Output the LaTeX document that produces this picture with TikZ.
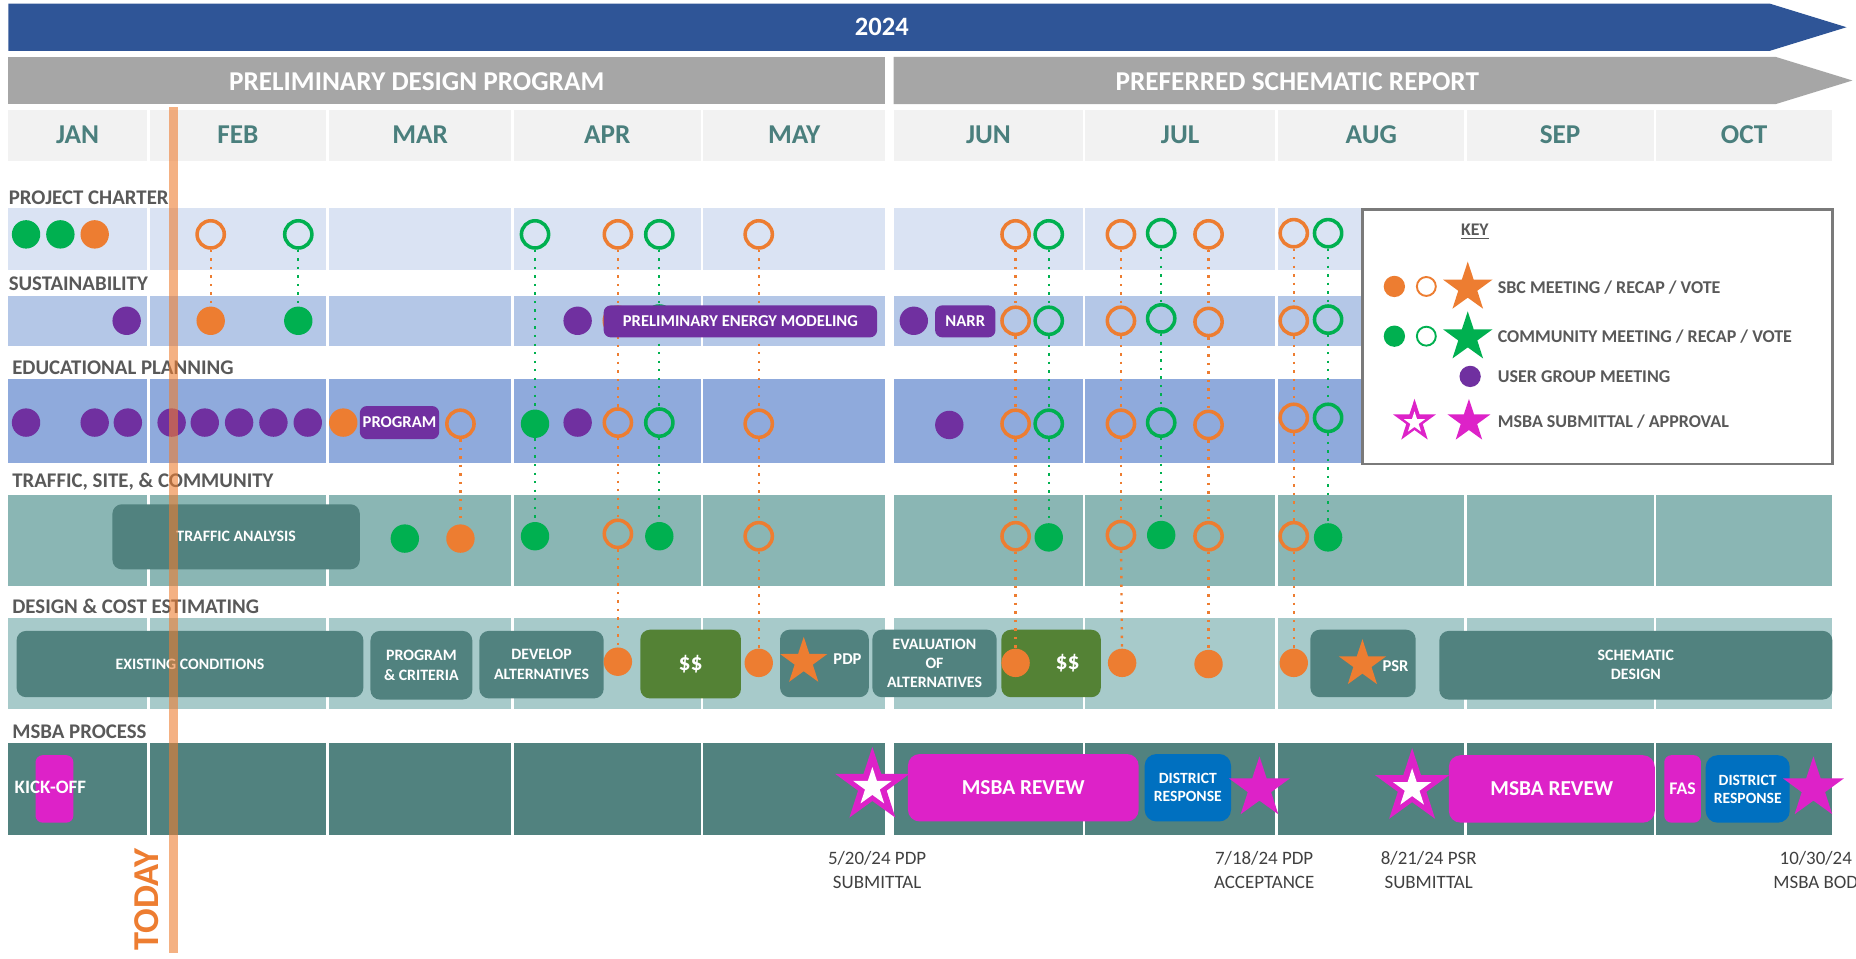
\documentclass[tikz,border=0pt]{standalone}
\usepackage{fontspec}
\setmainfont{Carlito}
\usetikzlibrary{shapes.geometric}
\definecolor{cBlue}{HTML}{2F5597}
\definecolor{cGray}{HTML}{A6A6A6}
\definecolor{cHead}{HTML}{F2F2F2}
\definecolor{cMonth}{HTML}{4A7F7D}
\definecolor{cLabel}{HTML}{595959}
\definecolor{bPC}{HTML}{DAE3F3}
\definecolor{bSU}{HTML}{B4C7E7}
\definecolor{bED}{HTML}{8FAADC}
\definecolor{bTR}{HTML}{8AB6B4}
\definecolor{bDE}{HTML}{A7CACA}
\definecolor{cTeal}{HTML}{51827F}
\definecolor{cMoney}{HTML}{548235}
\definecolor{cPurp}{HTML}{7030A0}
\definecolor{cOr}{HTML}{ED7D31}
\definecolor{cGr}{HTML}{00B050}
\definecolor{cMag}{HTML}{DD22C8}
\definecolor{cDist}{HTML}{0070C0}
\definecolor{cDate}{HTML}{404040}
\pgfdeclarelayer{bg}
\pgfdeclarelayer{mid}
\pgfsetlayers{bg,mid,main}
\tikzset{
  fdot/.style={circle, inner sep=0pt, minimum size=12pt},
  odot/.style={fdot, fill=cOr},
  gdot/.style={fdot, fill=cGr},
  pdot/.style={fdot, fill=cPurp},
  ring/.style={circle, inner sep=0pt, minimum size=11.5pt, line width=1.5pt},
  oring/.style={ring, draw=cOr},
  gring/.style={ring, draw=cGr},
  olink/.style={draw=cOr, line width=1pt, dash pattern=on 1pt off 2.6pt},
  glink/.style={draw=cGr, line width=1pt, dash pattern=on 1pt off 2.6pt},
  rowlabel/.style={anchor=west, inner sep=0pt, text=cLabel, font=\bfseries\fontsize{8.8}{10}\selectfont},
  monthlbl/.style={text=cMonth, font=\bfseries\fontsize{11.5}{12}\selectfont},
  tbox/.style={rectangle, rounded corners=4pt, fill=cTeal, text=white, align=center, inner sep=0pt, font=\bfseries\fontsize{6.7}{8.6}\selectfont},
  mbox/.style={tbox, fill=cMoney, font=\bfseries\fontsize{10}{11}\selectfont},
  pbox/.style={rectangle, rounded corners=3pt, fill=cPurp, text=white, inner sep=0pt, font=\bfseries\fontsize{7}{8}\selectfont},
  magbox/.style={rectangle, rounded corners=5pt, fill=cMag, text=white, inner sep=0pt, font=\bfseries\fontsize{9}{10}\selectfont},
  distbox/.style={rectangle, rounded corners=5pt, fill=cDist, text=white, align=center, inner sep=0pt, font=\bfseries\fontsize{6.6}{7.6}\selectfont},
  starshape/.style={star, star points=5, star point ratio=2.6, inner sep=0pt, draw=none},
  datelbl/.style={align=center, text=cDate, font=\fontsize{8}{10}\selectfont},
  keytxt/.style={anchor=west, inner sep=0pt, text=cLabel, font=\bfseries\fontsize{7.6}{9}\selectfont}
}
\begin{document}
\begin{tikzpicture}[x=0.5pt,y=-0.5pt]
\useasboundingbox (0,0) rectangle (1568,810);
\clip (0,0) rectangle (1568,810);
% top banners
\fill[cBlue] (7,3) -- (1495,3) -- (1560,23) -- (1495,43) -- (7,43) -- cycle;
\node[text=white, font=\bfseries\fontsize{11.2}{12}\selectfont] (yr) at (745,23) {2024};
\fill[cGray] (7,48) rectangle (748,88);
\fill[cGray] (755,48) -- (1500,48) -- (1565,68) -- (1500,88) -- (755,88) -- cycle;
\node[text=white, font=\bfseries\fontsize{11.5}{12}\selectfont] (pdp) at (352,69) {PRELIMINARY DESIGN PROGRAM};
\node[text=white, font=\bfseries\fontsize{11.5}{12}\selectfont] (psr) at (1096,69) {PREFERRED SCHEMATIC REPORT};
% month headers
\foreach \a/\b/\m in {7/124/JAN,127/275/FEB,278/432/MAR,434/592/APR,594/748/MAY,755/915/JUN,917/1077/JUL,1080/1237/AUG,1239/1397/SEP,1399/1548/OCT}{
  \fill[cHead] (\a,93) rectangle (\b,136);
  \node[monthlbl] (m\m) at ({(\a+\b)/2},114) {\m};
}
\begin{pgfonlayer}{bg}
% row bands
\foreach \a/\b in {7/124,127/275,278/432,434/592,594/748,755/915,917/1077,1080/1237}{
  \fill[bPC] (\a,176) rectangle (\b,228);
  \fill[bSU] (\a,250) rectangle (\b,292);
  \fill[bED] (\a,320) rectangle (\b,391);
}
\foreach \a/\b in {7/124,127/275,278/432,434/592,594/748,755/915,917/1077,1080/1237,1239/1397,1399/1548}{
  \fill[bTR] (\a,418) rectangle (\b,495);
  \fill[bDE] (\a,522) rectangle (\b,599);
  \fill[cTeal] (\a,628) rectangle (\b,705);
}
% traffic box
\node[tbox, minimum width=104.5pt, minimum height=27.5pt] (traf) at (199.5,453.5) {TRAFFIC ANALYSIS};
% design boxes
\node[tbox, minimum width=146.5pt, minimum height=28pt] (exist) at (160.5,561) {EXISTING CONDITIONS};
\node[tbox, minimum width=43pt, minimum height=29pt] (progcrit) at (356,562) {PROGRAM\\\& CRITERIA};
\node[tbox, minimum width=52.5pt, minimum height=28.5pt] (devalt) at (457.5,561.5) {DEVELOP\\ALTERNATIVES};
\node[mbox, minimum width=42.5pt, minimum height=29pt] (money1) at (583.5,561) {\$\$};
\node[tbox, minimum width=37.5pt, minimum height=28.5pt] (pdpbox) at (696.5,560.5) {};
\node[starshape, fill=cOr, minimum size=21pt] (pdpstar) at (679,559) {};
\node[text=white, font=\bfseries\fontsize{7}{8}\selectfont] (pdptxt) at (716,557) {PDP};
\node[tbox, minimum width=52.5pt, minimum height=28.5pt, font=\bfseries\fontsize{6.7}{8}\selectfont] (evalalt) at (789.5,560.5) {EVALUATION\\OF\\ALTERNATIVES};
\node[mbox, minimum width=42pt, minimum height=28.5pt] (money2) at (888,560.5) {\hspace*{14pt}\$\$};
\node[tbox, minimum width=44.5pt, minimum height=28.5pt] (psrbox) at (1151.5,560.5) {};
\node[starshape, fill=cOr, minimum size=21pt] (psrstar) at (1151,561) {};
\node[text=white, font=\bfseries\fontsize{7}{8}\selectfont] (psrtxt) at (1179,563) {PSR};
\node[tbox, minimum width=166pt, minimum height=29pt, font=\bfseries\fontsize{6.7}{8}\selectfont] (schem) at (1382,562) {SCHEMATIC\\DESIGN};
\end{pgfonlayer}
% row labels
\node[rowlabel] (lpc) at (7,167) {PROJECT CHARTER};
\node[rowlabel] (lsu) at (7,240) {SUSTAINABILITY};
\node[rowlabel] (led) at (10,311) {EDUCATIONAL PLANNING};
\node[rowlabel] (ltr) at (10,407) {TRAFFIC, SITE, \& COMMUNITY};
\node[rowlabel] (lde) at (10,512) {DESIGN \& COST ESTIMATING};
\node[rowlabel] (lms) at (10,618) {MSBA PROCESS};
% project charter
\node[gdot] (pc1) at (22,198) {};
\node[gdot] (pc2) at (51,198) {};
\node[odot] (pc3) at (80,198) {};
\node[oring] (pcFo) at (178,198) {};
\node[gring] (pcFg) at (252,198) {};
\node[gring] (pcAg) at (452,198) {};
\node[oring] (pcAo) at (522,198) {};
\node[gring] (pcAg2) at (557,198) {};
\node[oring] (pcMo) at (641,198) {};
\node[oring] (pcJo) at (858,198) {};
\node[gring] (pcJg) at (886,198) {};
\node[oring] (pcLo1) at (947,198) {};
\node[gring] (pcLg) at (981,197) {};
\node[oring] (pcLo2) at (1021,198) {};
\node[oring] (pcUo) at (1093,197) {};
\node[gring] (pcUg) at (1122,197) {};
% sustainability
\node[pdot] (s1) at (107,271) {};
\node[odot] (sFo) at (178,271) {};
\node[gdot] (sFg) at (252,271) {};
\node[pdot] (sAp) at (488,271) {};
\node[oring] (sAo) at (522,271) {};
\node[gring] (sAg) at (557,270) {};
\node[pbox, minimum width=115.5pt, minimum height=13.5pt] (pem) at (625.5,271.5) {PRELIMINARY ENERGY MODELING};
\node[pdot] (sJp) at (772,271) {};
\node[pbox, minimum width=25.5pt, minimum height=13.5pt] (narr) at (815.5,271.5) {NARR};
\node[oring] (sJo) at (858,271) {};
\node[gring] (sJg) at (886,271) {};
\node[oring] (sLo1) at (947,271) {};
\node[gring] (sLg) at (981,269) {};
\node[oring] (sLo2) at (1021,272) {};
\node[oring] (sUo) at (1093,271) {};
\node[gring] (sUg) at (1122,270) {};
% educational planning
\foreach \x [count=\i] in {22,80,108,145,173,202,231,260}{
  \node[pdot] (ep\i) at (\x,357) {};
}
\node[odot] (eMo) at (290,357) {};
\node[pbox, minimum width=33.5pt, minimum height=14pt] (progbox) at (337.5,357) {PROGRAM};
\node[oring] (eMr) at (389,358) {};
\node[gdot] (eAg) at (452,358) {};
\node[pdot] (eAp) at (488,357) {};
\node[oring] (eAo) at (522,357) {};
\node[gring] (eAg2) at (557,357) {};
\node[oring] (eMyo) at (641,358) {};
\node[pdot] (eJp) at (802,359) {};
\node[oring] (eJo) at (858,358) {};
\node[gring] (eJg) at (886,358) {};
\node[oring] (eLo1) at (947,358) {};
\node[gring] (eLg) at (981,357) {};
\node[oring] (eLo2) at (1021,359) {};
\node[oring] (eUo) at (1093,353) {};
\node[gring] (eUg) at (1122,353) {};
% traffic
\node[gdot] (tMg) at (342,455) {};
\node[odot] (tMo) at (389,455) {};
\node[gdot] (tAg) at (452,453) {};
\node[oring] (tAo) at (522,451) {};
\node[gdot] (tAg2) at (557,453) {};
\node[oring] (tMyo) at (641,453) {};
\node[oring] (tJo) at (858,453) {};
\node[gdot] (tJg) at (886,454) {};
\node[oring] (tLo1) at (947,452) {};
\node[gdot] (tLg) at (981,452) {};
\node[oring] (tLo2) at (1021,453) {};
\node[oring] (tUo) at (1093,453) {};
\node[gdot] (tUg) at (1122,454) {};
% design dots
\node[odot] (dAo) at (522,559) {};
\node[odot] (dMo) at (641,560) {};
\node[odot] (dJo) at (858,560) {};
\node[odot] (dLo1) at (948,560) {};
\node[odot] (dLo2) at (1021,561) {};
\node[odot] (dUo) at (1093,560) {};
% dotted links (behind circles and purple boxes)
\begin{pgfonlayer}{mid}
\draw[olink] (pcFo) -- (sFo);
\draw[glink] (pcFg) -- (sFg);
\draw[glink] (pcAg) -- (eAg) -- (tAg);
\draw[olink] (pcAo) -- (sAo);
\draw[olink] (sAo) -- (eAo);
\draw[olink] (eAo) -- (tAo);
\draw[olink] (tAo) -- (dAo);
\draw[glink] (pcAg2) -- (sAg);
\draw[glink] (sAg) -- (eAg2);
\draw[glink] (eAg2) -- (tAg2);
\draw[olink] (pcMo) -- (eMyo);
\draw[olink] (eMyo) -- (tMyo);
\draw[olink] (tMyo) -- (dMo);
\draw[olink] (eMr) -- (tMo);
\draw[olink] (pcJo) -- (sJo);
\draw[olink] (sJo) -- (eJo);
\draw[olink] (eJo) -- (tJo);
\draw[olink] (tJo) -- (dJo);
\draw[glink] (pcJg) -- (sJg);
\draw[glink] (sJg) -- (eJg);
\draw[glink] (eJg) -- (tJg);
\draw[olink] (pcLo1) -- (sLo1);
\draw[olink] (sLo1) -- (eLo1);
\draw[olink] (eLo1) -- (tLo1);
\draw[olink] (tLo1) -- (dLo1);
\draw[glink] (pcLg) -- (sLg);
\draw[glink] (sLg) -- (eLg);
\draw[glink] (eLg) -- (tLg);
\draw[olink] (pcLo2) -- (sLo2);
\draw[olink] (sLo2) -- (eLo2);
\draw[olink] (eLo2) -- (tLo2);
\draw[olink] (tLo2) -- (dLo2);
\draw[olink] (pcUo) -- (sUo);
\draw[olink] (sUo) -- (eUo);
\draw[olink] (eUo) -- (tUo);
\draw[olink] (tUo) -- (dUo);
\draw[glink] (pcUg) -- (sUg);
\draw[glink] (sUg) -- (eUg);
\draw[glink] (eUg) -- (tUg);
\end{pgfonlayer}
% MSBA process
\node[rectangle, rounded corners=3pt, fill=cMag, minimum width=16pt, minimum height=28.5pt, inner sep=0pt] (kick) at (46,666.5) {};
\node[anchor=west, inner sep=0pt, text=white, font=\bfseries\fontsize{8}{9}\selectfont] (kicktxt) at (12,665) {KICK-OFF};
\node[starshape, fill=cMag, minimum size=33pt] (sub1) at (737,664) {};
\node[starshape, fill=white, minimum size=17pt] (sub1in) at (737,665) {};
\node[magbox, minimum width=97.5pt, minimum height=28.5pt] (rev1) at (864.5,665.5) {MSBA REVEW};
\node[distbox, minimum width=36.5pt, minimum height=28.5pt] (dist1) at (1003.5,665.5) {DISTRICT\\RESPONSE};
\node[starshape, fill=cMag, minimum size=27pt] (acc1) at (1064,666) {};
\node[starshape, fill=cMag, minimum size=33pt] (sub2) at (1193,665) {};
\node[starshape, fill=white, minimum size=17pt] (sub2in) at (1193,666) {};
\node[magbox, minimum width=87pt, minimum height=28.5pt] (rev2) at (1311,666.5) {MSBA REVEW};
\node[magbox, minimum width=15.5pt, minimum height=28.5pt, rounded corners=3pt, font=\bfseries\fontsize{7.5}{8}\selectfont] (fas) at (1421.5,666.5) {FAS};
\node[distbox, minimum width=35.5pt, minimum height=28.5pt] (dist2) at (1476.5,666.5) {DISTRICT\\RESPONSE};
\node[starshape, fill=cMag, minimum size=27pt] (acc2) at (1532,666) {};
% date labels
\node[datelbl] (d1) at (741,735) {5/20/24 PDP\\SUBMITTAL};
\node[datelbl] (d2) at (1068,735) {7/18/24 PDP\\ACCEPTANCE};
\node[datelbl] (d3) at (1207,735) {8/21/24 PSR\\SUBMITTAL};
\node[datelbl] (d4) at (1534,735) {10/30/24\\MSBA BOD};
% key
\draw[draw=cLabel!80, line width=1pt, fill=white] (1151,177) rectangle (1548,392);
\node[text=cLabel, font=\bfseries\fontsize{7.5}{8}\selectfont] (keyt) at (1246,196) {\underline{KEY}};
\node[fdot, fill=cOr, minimum size=9pt] (k1a) at (1178,242) {};
\node[circle, draw=cOr, line width=0.8pt, minimum size=8pt, inner sep=0pt] (k1b) at (1205,242) {};
\node[starshape, fill=cOr, minimum size=22pt] (k1c) at (1240,243) {};
\node[keytxt] (k1t) at (1265,243) {SBC MEETING / RECAP / VOTE};
\node[fdot, fill=cGr, minimum size=9pt] (k2a) at (1178,284) {};
\node[circle, draw=cGr, line width=0.8pt, minimum size=8pt, inner sep=0pt] (k2b) at (1205,284) {};
\node[starshape, fill=cGr, minimum size=22pt] (k2c) at (1240,285) {};
\node[keytxt] (k2t) at (1265,284) {COMMUNITY MEETING / RECAP / VOTE};
\node[fdot, fill=cPurp, minimum size=9pt] (k3a) at (1242,318) {};
\node[keytxt] (k3t) at (1265,318) {USER GROUP MEETING};
\node[starshape, fill=cMag, minimum size=19pt] (k4a) at (1195,356) {};
\node[starshape, fill=white, minimum size=9.5pt] (k4ai) at (1195,357) {};
\node[starshape, fill=cMag, minimum size=19pt] (k4b) at (1241,356) {};
\node[keytxt] (k4t) at (1265,356) {MSBA SUBMITTAL / APPROVAL};
% today
\fill[cOr, opacity=0.6] (143,90) rectangle (150,805);
\node[rotate=90, text=cOr, font=\bfseries\fontsize{15.4}{16}\selectfont] (today) at (124,760) {TODAY};
\end{tikzpicture}
\end{document}
